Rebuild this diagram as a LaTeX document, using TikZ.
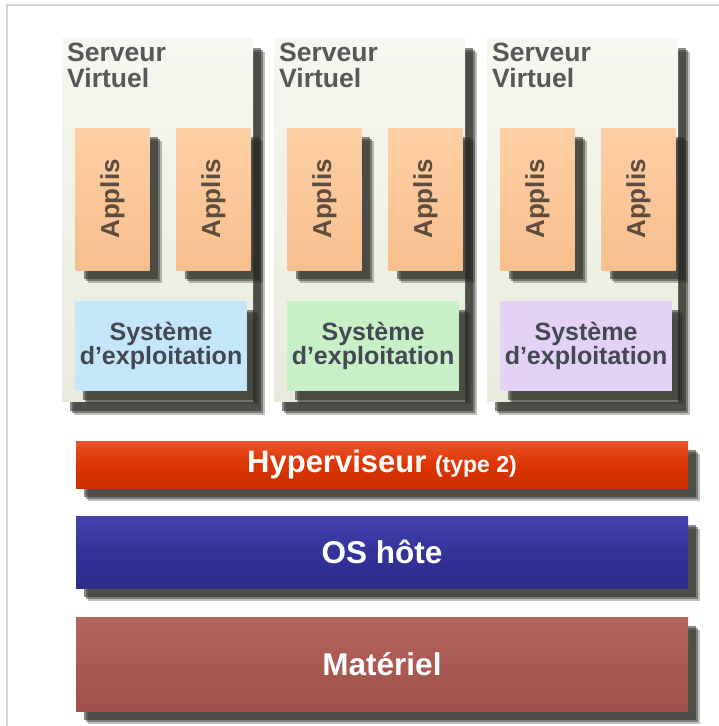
\documentclass[tikz,border=0pt]{standalone}
\usepackage{fontspec}
\setmainfont{Liberation Sans}
\usetikzlibrary{shadows}
\definecolor{bordc}{HTML}{D4D4D4}
\definecolor{shc}{HTML}{2A2A24}
\definecolor{paneltop}{HTML}{F6F7F0}
\definecolor{panelbot}{HTML}{E8EBDC}
\definecolor{titlec}{HTML}{58585A}
\definecolor{apptop}{HTML}{FDCFA4}
\definecolor{appbot}{HTML}{F7BF8E}
\definecolor{apptext}{HTML}{5E4C3E}
\definecolor{osA}{HTML}{C4E6FA}
\definecolor{osB}{HTML}{C8F0C6}
\definecolor{osC}{HTML}{E3D1F6}
\definecolor{ostext}{HTML}{434852}
\definecolor{hyptop}{HTML}{E8542A}
\definecolor{hypmid}{HTML}{DD3502}
\definecolor{hypbot}{HTML}{C83000}
\definecolor{hosttop}{HTML}{4242AA}
\definecolor{hostmid}{HTML}{33339A}
\definecolor{hostbot}{HTML}{2C2C8A}
\definecolor{mattop}{HTML}{B4645C}
\definecolor{matmid}{HTML}{AA5A53}
\definecolor{matbot}{HTML}{9E504A}
\begin{document}
\begin{tikzpicture}[x=1pt,y=-1pt,
  sh/.style={
    drop shadow={shadow xshift=12pt,shadow yshift=-13pt,opacity=.30,fill=shc},
    drop shadow={shadow xshift=10pt,shadow yshift=-11pt,opacity=.45,fill=shc},
    drop shadow={shadow xshift=8pt,shadow yshift=-9pt,opacity=.55,fill=shc}},
  panel/.style={sh,top color=paneltop,bottom color=panelbot,minimum width=191pt,minimum height=363pt,inner sep=0pt,outer sep=0pt},
  title/.style={anchor=north west,align=left,inner sep=0pt,text=titlec,font=\fontsize{26.5}{26}\selectfont\bfseries},
  app/.style={sh,top color=apptop,bottom color=appbot,minimum width=74pt,minimum height=142pt,inner sep=0pt,text=apptext,font=\fontsize{26}{26}\selectfont\bfseries},
  osbox/.style={sh,fill=#1,minimum width=172pt,minimum height=90pt,inner sep=0pt,align=center,text=ostext,font=\fontsize{25}{23}\selectfont\bfseries},
  bar/.style={sh,minimum width=612pt,inner sep=0pt,text=white,font=\fontsize{31.5}{32}\selectfont\bfseries}
]
\useasboundingbox (0,0) rectangle (719,726);
\fill[white] (0,0) rectangle (719,726);
\draw[bordc,line width=1.2pt] (7,726) -- (7,5) -- (719,5);

\foreach \i/\dx/\oc in {1/0/osA,2/212/osB,3/425/osC}{
  \node[panel] (p\i) at (157.5+\dx,220) {};
  \node[title] (t\i) at (67+\dx,43) {Serveur\\Virtuel};
  \node[app] (a\i a) at (112.5+\dx,199) {\rotatebox{90}{Applis}};
  \node[app] (a\i b) at (213.5+\dx,199) {\rotatebox{90}{Applis}};
  \node[osbox=\oc] (o\i) at (161+\dx,346) {Système\\d’exploitation};
}

\node[bar,minimum height=47pt,top color=hyptop,bottom color=hypbot,middle color=hypmid,font=\fontsize{31}{31}\selectfont\bfseries] (hyp) at (382,464.5)
  {Hyperviseur {\fontsize{23}{23}\selectfont (type 2)}};
\node[bar,minimum height=72pt,top color=hosttop,bottom color=hostbot,middle color=hostmid] (host) at (382,552) {OS hôte};
\node[bar,minimum height=94pt,top color=mattop,bottom color=matbot,middle color=matmid] (mat) at (382,664) {Matériel};
\end{tikzpicture}
\end{document}
